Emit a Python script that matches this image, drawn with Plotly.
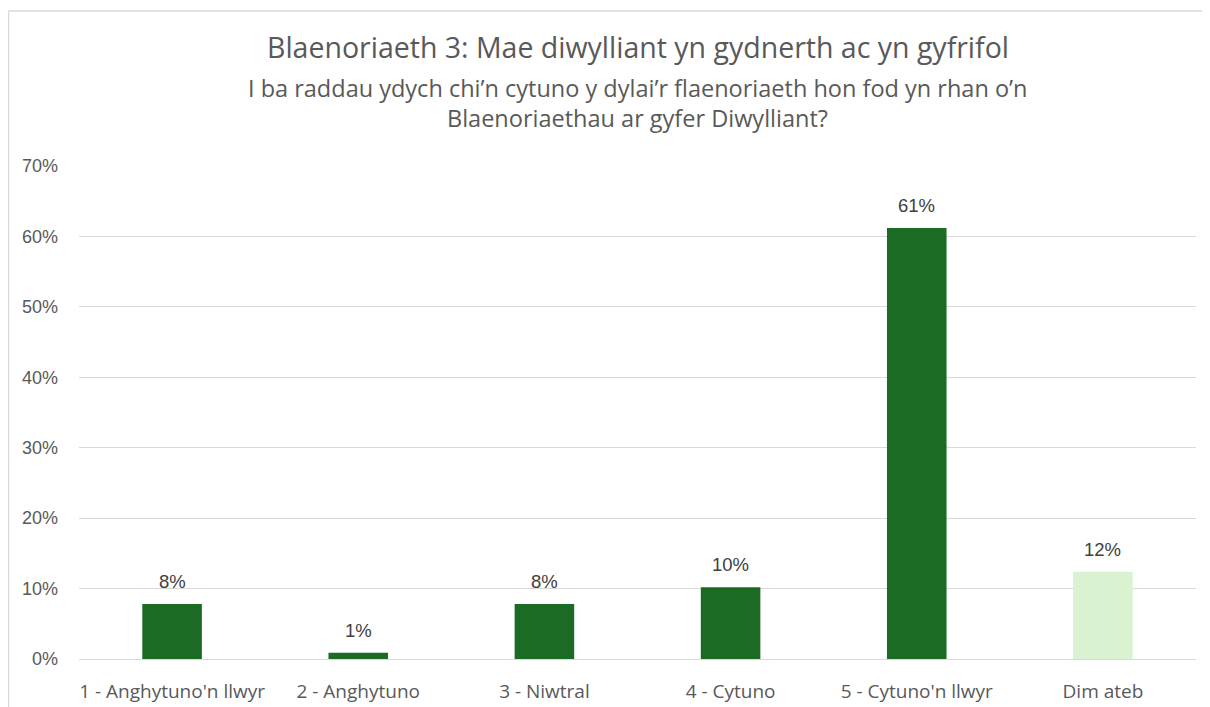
import plotly.graph_objects as go

categories = ["1 - Anghytuno'n llwyr", "2 - Anghytuno", "3 - Niwtral", "4 - Cytuno", "5 - Cytuno'n llwyr", "Dim ateb"]
values = [0.078, 0.009, 0.078, 0.102, 0.612, 0.124]
labels = ["8%", "1%", "8%", "10%", "61%", "12%"]
colors = ["#1b6b25", "#1b6b25", "#1b6b25", "#1b6b25", "#1b6b25", "#d9f2d0"]
yticks = [0, 0.1, 0.2, 0.3, 0.4, 0.5, 0.6, 0.7]
yticklabels = ["0%", "10%", "20%", "30%", "40%", "50%", "60%", "70%"]

font_main = "Open Sans, Roboto, Liberation Sans, sans-serif"
font_num = "Liberation Sans, Arial, sans-serif"

# figure is drawn with an 8px page offset; plot area in figure coords
L, T, PW, PH = 71, 158, 1117, 493
W, H = 1210, 707

fig = go.Figure(go.Bar(
    x=categories, y=values, marker_color=colors, marker_line_width=0,
    width=0.32, hoverinfo="x+y",
))

annotations = []
for c, v, t in zip(categories, values, labels):
    annotations.append(dict(x=c, y=v, text=t, showarrow=False, xanchor="center", yanchor="bottom",
                            yshift=10, font=dict(family=font_num, size=18.5, color="#404040")))

def py(fig_y):
    return (T + PH - fig_y) / PH

annotations += [
    dict(text="Blaenoriaeth 3: Mae diwylliant yn gydnerth ac yn gyfrifol", xref="paper", yref="paper",
         x=0.5, y=py(39), xanchor="center", yanchor="middle", showarrow=False,
         font=dict(family=font_main, size=28.5, color="#595959")),
    dict(text="I ba raddau ydych chi’n cytuno y dylai’r flaenoriaeth hon fod yn rhan o’n", xref="paper", yref="paper",
         x=0.5, y=py(80), xanchor="center", yanchor="middle", showarrow=False,
         font=dict(family=font_main, size=23.5, color="#595959")),
    dict(text="Blaenoriaethau ar gyfer Diwylliant?", xref="paper", yref="paper",
         x=0.5, y=py(110), xanchor="center", yanchor="middle", showarrow=False,
         font=dict(family=font_main, size=23.5, color="#595959")),
]

fig.update_layout(
    width=W, height=H,
    paper_bgcolor="white", plot_bgcolor="white",
    margin=dict(l=L, r=W - L - PW, t=T, b=H - T - PH),
    showlegend=False,
    yaxis=dict(range=[0, 0.7], tickvals=yticks, ticktext=yticklabels,
               showgrid=True, gridcolor="#d9d9d9", gridwidth=1.3, zeroline=False,
               showline=False, ticks="", ticklabelstandoff=20,
               tickfont=dict(family=font_num, size=18, color="#595959")),
    xaxis=dict(showgrid=False, showline=True, linecolor="#d9d9d9", linewidth=1.3,
               ticks="", ticklabelstandoff=15, tickfont=dict(family=font_main, size=19, color="#595959")),
    shapes=[
        dict(type="line", xref="paper", yref="paper", x0=(0.5 - L) / PW, x1=(0.5 - L) / PW,
             y0=py(H + 10), y1=py(3), line=dict(color="#d9d9d9", width=1.5)),
        dict(type="line", xref="paper", yref="paper", x0=(0.5 - L) / PW, x1=(W - L) / PW,
             y0=py(3), y1=py(3), line=dict(color="#d9d9d9", width=1.5)),
    ],
    annotations=annotations,
)

fig.write_html("out.html")
